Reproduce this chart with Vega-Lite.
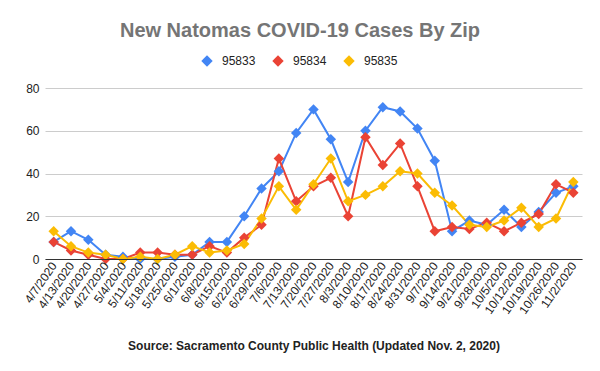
{
  "$schema": "https://vega.github.io/schema/vega-lite/v6.json",
  "width": 537,
  "height": 171,
  "autosize": {"type": "none"},
  "padding": {"left": 45, "top": 88, "right": 18, "bottom": 112},
  "background": "white",
  "title": {
    "text": "New Natomas COVID-19 Cases By Zip",
    "font": "Liberation Sans",
    "fontSize": 20,
    "fontWeight": "bold",
    "color": "#757575",
    "anchor": "middle",
    "frame": "group",
    "dx": -13.5,
    "offset": 14
  },
  "config": {
    "font": "Liberation Sans",
    "view": {"stroke": null}
  },
  "datasets": {
    "cases": [
      {"date": "4/7/2020", "zip": "95833", "cases": 8},
      {"date": "4/13/2020", "zip": "95833", "cases": 13},
      {"date": "4/20/2020", "zip": "95833", "cases": 9},
      {"date": "4/27/2020", "zip": "95833", "cases": 2},
      {"date": "5/4/2020", "zip": "95833", "cases": 1},
      {"date": "5/11/2020", "zip": "95833", "cases": 0},
      {"date": "5/18/2020", "zip": "95833", "cases": 0},
      {"date": "5/25/2020", "zip": "95833", "cases": 1},
      {"date": "6/1/2020", "zip": "95833", "cases": 2},
      {"date": "6/8/2020", "zip": "95833", "cases": 8},
      {"date": "6/15/2020", "zip": "95833", "cases": 8},
      {"date": "6/22/2020", "zip": "95833", "cases": 20},
      {"date": "6/29/2020", "zip": "95833", "cases": 33},
      {"date": "7/6/2020", "zip": "95833", "cases": 41},
      {"date": "7/13/2020", "zip": "95833", "cases": 59},
      {"date": "7/20/2020", "zip": "95833", "cases": 70},
      {"date": "7/27/2020", "zip": "95833", "cases": 56},
      {"date": "8/3/2020", "zip": "95833", "cases": 36},
      {"date": "8/10/2020", "zip": "95833", "cases": 60},
      {"date": "8/17/2020", "zip": "95833", "cases": 71},
      {"date": "8/24/2020", "zip": "95833", "cases": 69},
      {"date": "8/31/2020", "zip": "95833", "cases": 61},
      {"date": "9/7/2020", "zip": "95833", "cases": 46},
      {"date": "9/14/2020", "zip": "95833", "cases": 13},
      {"date": "9/21/2020", "zip": "95833", "cases": 18},
      {"date": "9/28/2020", "zip": "95833", "cases": 16},
      {"date": "10/5/2020", "zip": "95833", "cases": 23},
      {"date": "10/12/2020", "zip": "95833", "cases": 15},
      {"date": "10/19/2020", "zip": "95833", "cases": 22},
      {"date": "10/26/2020", "zip": "95833", "cases": 31},
      {"date": "11/2/2020", "zip": "95833", "cases": 34},
      {"date": "4/7/2020", "zip": "95834", "cases": 8},
      {"date": "4/13/2020", "zip": "95834", "cases": 4},
      {"date": "4/20/2020", "zip": "95834", "cases": 2},
      {"date": "4/27/2020", "zip": "95834", "cases": 0},
      {"date": "5/4/2020", "zip": "95834", "cases": 0},
      {"date": "5/11/2020", "zip": "95834", "cases": 3},
      {"date": "5/18/2020", "zip": "95834", "cases": 3},
      {"date": "5/25/2020", "zip": "95834", "cases": 2},
      {"date": "6/1/2020", "zip": "95834", "cases": 2},
      {"date": "6/8/2020", "zip": "95834", "cases": 6},
      {"date": "6/15/2020", "zip": "95834", "cases": 3},
      {"date": "6/22/2020", "zip": "95834", "cases": 10},
      {"date": "6/29/2020", "zip": "95834", "cases": 16},
      {"date": "7/6/2020", "zip": "95834", "cases": 47},
      {"date": "7/13/2020", "zip": "95834", "cases": 27},
      {"date": "7/20/2020", "zip": "95834", "cases": 34},
      {"date": "7/27/2020", "zip": "95834", "cases": 38},
      {"date": "8/3/2020", "zip": "95834", "cases": 20},
      {"date": "8/10/2020", "zip": "95834", "cases": 57},
      {"date": "8/17/2020", "zip": "95834", "cases": 44},
      {"date": "8/24/2020", "zip": "95834", "cases": 54},
      {"date": "8/31/2020", "zip": "95834", "cases": 34},
      {"date": "9/7/2020", "zip": "95834", "cases": 13},
      {"date": "9/14/2020", "zip": "95834", "cases": 15},
      {"date": "9/21/2020", "zip": "95834", "cases": 14},
      {"date": "9/28/2020", "zip": "95834", "cases": 17},
      {"date": "10/5/2020", "zip": "95834", "cases": 13},
      {"date": "10/12/2020", "zip": "95834", "cases": 17},
      {"date": "10/19/2020", "zip": "95834", "cases": 21},
      {"date": "10/26/2020", "zip": "95834", "cases": 35},
      {"date": "11/2/2020", "zip": "95834", "cases": 31},
      {"date": "4/7/2020", "zip": "95835", "cases": 13},
      {"date": "4/13/2020", "zip": "95835", "cases": 6},
      {"date": "4/20/2020", "zip": "95835", "cases": 3},
      {"date": "4/27/2020", "zip": "95835", "cases": 2},
      {"date": "5/4/2020", "zip": "95835", "cases": 0},
      {"date": "5/11/2020", "zip": "95835", "cases": 1},
      {"date": "5/18/2020", "zip": "95835", "cases": 0},
      {"date": "5/25/2020", "zip": "95835", "cases": 2},
      {"date": "6/1/2020", "zip": "95835", "cases": 6},
      {"date": "6/8/2020", "zip": "95835", "cases": 3},
      {"date": "6/15/2020", "zip": "95835", "cases": 4},
      {"date": "6/22/2020", "zip": "95835", "cases": 7},
      {"date": "6/29/2020", "zip": "95835", "cases": 19},
      {"date": "7/6/2020", "zip": "95835", "cases": 34},
      {"date": "7/13/2020", "zip": "95835", "cases": 23},
      {"date": "7/20/2020", "zip": "95835", "cases": 35},
      {"date": "7/27/2020", "zip": "95835", "cases": 47},
      {"date": "8/3/2020", "zip": "95835", "cases": 27},
      {"date": "8/10/2020", "zip": "95835", "cases": 30},
      {"date": "8/17/2020", "zip": "95835", "cases": 34},
      {"date": "8/24/2020", "zip": "95835", "cases": 41},
      {"date": "8/31/2020", "zip": "95835", "cases": 40},
      {"date": "9/7/2020", "zip": "95835", "cases": 31},
      {"date": "9/14/2020", "zip": "95835", "cases": 25},
      {"date": "9/21/2020", "zip": "95835", "cases": 16},
      {"date": "9/28/2020", "zip": "95835", "cases": 15},
      {"date": "10/5/2020", "zip": "95835", "cases": 18},
      {"date": "10/12/2020", "zip": "95835", "cases": 24},
      {"date": "10/19/2020", "zip": "95835", "cases": 15},
      {"date": "10/26/2020", "zip": "95835", "cases": 19},
      {"date": "11/2/2020", "zip": "95835", "cases": 36}
    ]
  },
  "data": {"name": "cases"},
  "mark": {
    "type": "line",
    "strokeWidth": 2,
    "point": {"shape": "diamond", "size": 110, "filled": true, "opacity": 1}
  },
  "encoding": {
    "x": {
      "field": "date",
      "type": "ordinal",
      "sort": null,
      "scale": {"type": "point", "padding": 0.5},
      "axis": {
        "title": "Source: Sacramento County Public Health (Updated Nov. 2, 2020)",
        "titleFont": "Liberation Sans",
        "titleFontSize": 12,
        "titleFontWeight": "bold",
        "titleColor": "#222222",
        "titleY": 90,
        "titleBaseline": "alphabetic",
        "labelAngle": -55,
        "labelAlign": "right",
        "labelBaseline": "middle",
        "labelFontSize": 12,
        "labelColor": "#222222",
        "labelPadding": 4,
        "labelOverlap": false,
        "ticks": false,
        "grid": false,
        "domainColor": "#333333",
        "domainWidth": 1,
        "zindex": 1
      }
    },
    "y": {
      "field": "cases",
      "type": "quantitative",
      "scale": {"domain": [0, 80], "nice": false},
      "axis": {
        "title": null,
        "values": [0, 20, 40, 60, 80],
        "labelFontSize": 12,
        "labelColor": "#222222",
        "labelPadding": 6,
        "domain": false,
        "ticks": false,
        "gridColor": "#cccccc",
        "gridWidth": 1
      }
    },
    "color": {
      "field": "zip",
      "type": "nominal",
      "scale": {"domain": ["95833", "95834", "95835"], "range": ["#4285F4", "#EA4335", "#FBBC04"]},
      "legend": {
        "title": null,
        "orient": "none",
        "legendX": 156,
        "legendY": -33,
        "direction": "horizontal",
        "padding": 0,
        "symbolType": "diamond",
        "symbolSize": 130,
        "symbolStrokeWidth": 0,
        "symbolOpacity": 1,
        "labelFontSize": 12,
        "labelColor": "#222222",
        "labelOffset": 9,
        "columnPadding": 16
      }
    }
  }
}
